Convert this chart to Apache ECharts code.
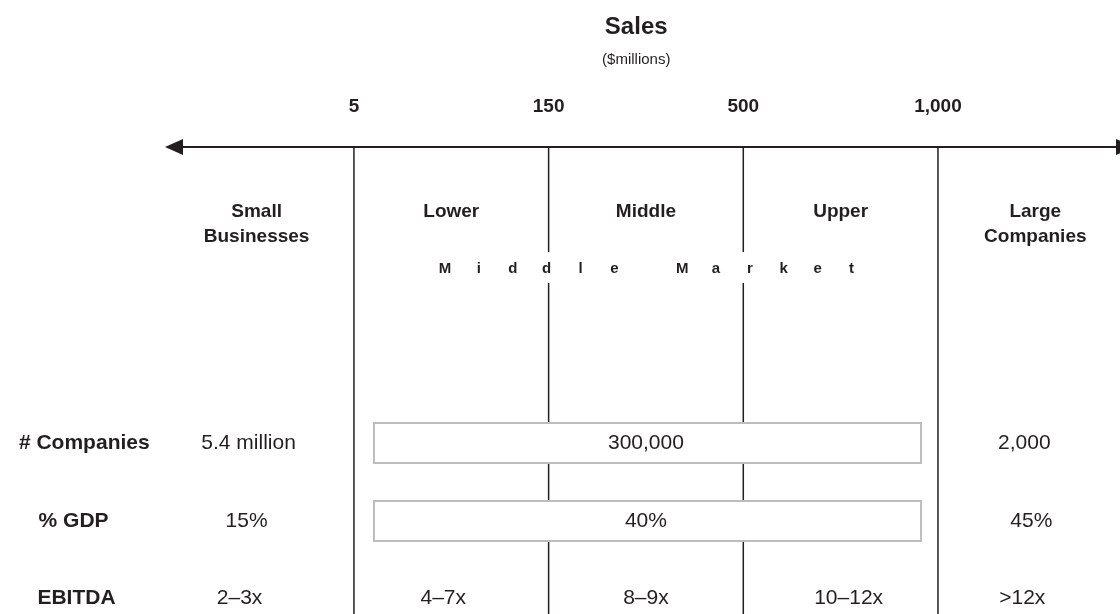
<!DOCTYPE html>
<html>
<head>
<meta charset="utf-8">
<script src="https://cdn.jsdelivr.net/npm/echarts@6/dist/echarts.min.js"></script>
<style>
html,body{margin:0;padding:0;background:#fff;}
#chart{width:1120px;height:614px;}
</style>
</head>
<body>
<div id="chart"></div>
<script>
// ---- data ----
const titleText = 'Sales';
const subtitleText = '($millions)';
const boundaryLabels = ['5', '150', '500', '1,000'];
const segmentLabels = ['Small\nBusinesses', 'Lower', 'Middle', 'Upper', 'Large\nCompanies'];
const groupLabel = 'Middle Market';
const rowLabels = ['# Companies', '% GDP', 'EBITDA'];
// [segment position, text]
const companiesValues = [[0, '5.4 million'], [2, '300,000'], [4, '2,000']];
const gdpValues = [[0, '15%'], [2, '40%'], [4, '45%']];
const ebitdaValues = [[0, '2–3x'], [1, '4–7x'], [2, '8–9x'], [3, '10–12x'], [4, '>12x']];
const spanningRows = [0, 1]; // rows whose middle-market value spans Lower..Upper

// ---- layout ----
const X_MIN = -0.818, X_MAX = 4.935;
const Y = { title: 27, sub: 60, ticks: 107, axis: 147, header: 212, group: 269, rows: [443, 521, 598], bottom: 614 };
const BOX = { x0: 1.103, x1: 3.913, h: 40 };
const ROW_LABEL_X = [-0.385, -0.44, -0.425];
const VALUE_NUDGE = [[-8, 0, -11], [-10, 0, -4], [-17, -8, 0, 8, -13]]; // px
const FONT = '"Liberation Sans", Arial, Helvetica, sans-serif';
const INK = '#231f20';
const rowValues = [companiesValues, gdpValues, ebitdaValues];

function txt(api, x, y, text, font, extra, dx) {
  const p = api.coord([x, y]);
  return {
    type: 'text',
    style: Object.assign({ text: text, x: p[0] + (dx || 0), y: p[1], align: 'center', verticalAlign: 'middle', font: font, fill: INK }, extra || {})
  };
}

const chart = echarts.init(document.getElementById('chart'), null, { renderer: 'canvas' });

const option = {
  animation: false,
  backgroundColor: '#ffffff',
  grid: { left: 0, right: 0, top: 0, bottom: 0 },
  xAxis: { type: 'value', min: X_MIN, max: X_MAX, show: false },
  yAxis: { type: 'value', min: 0, max: Y.bottom, inverse: true, show: false },
  series: [
    // axis arrow
    {
      type: 'custom', z: 1, clip: false, data: [0],
      renderItem: function (params, api) {
        const a = api.coord([X_MIN, Y.axis]);
        const b = api.coord([X_MAX, Y.axis]);
        const lx = a[0] + 165, rx = b[0] + 14;
        return {
          type: 'group', children: [
            { type: 'line', shape: { x1: lx + 10, y1: a[1], x2: rx - 10, y2: a[1] }, style: { stroke: INK, lineWidth: 2 } },
            { type: 'polygon', shape: { points: [[lx, a[1]], [lx + 18, a[1] - 8], [lx + 18, a[1] + 8]] }, style: { fill: INK } },
            { type: 'polygon', shape: { points: [[rx, b[1]], [rx - 18, b[1] - 8], [rx - 18, b[1] + 8]] }, style: { fill: INK } }
          ]
        };
      }
    },
    // boundary lines
    {
      type: 'custom', z: 1, data: boundaryLabels.map((l, i) => i + 1),
      renderItem: function (params, api) {
        const x = api.value(0);
        const p1 = api.coord([x, Y.axis]);
        const p2 = api.coord([x, Y.bottom]);
        return { type: 'line', shape: { x1: p1[0], y1: p1[1], x2: p2[0], y2: p2[1] }, style: { stroke: INK, lineWidth: 1.5 } };
      }
    },
    // white band behind Middle Market + boxes
    {
      type: 'custom', z: 2, data: [0],
      renderItem: function (params, api) {
        const children = [];
        const g0 = api.coord([1.45, Y.group - 17]);
        const g1 = api.coord([3.55, Y.group + 14]);
        children.push({ type: 'rect', shape: { x: g0[0], y: g0[1], width: g1[0] - g0[0], height: g1[1] - g0[1] }, style: { fill: '#fff' } });
        spanningRows.forEach(function (r) {
          const c0 = api.coord([BOX.x0, Y.rows[r] - BOX.h / 2]);
          const c1 = api.coord([BOX.x1, Y.rows[r] + BOX.h / 2]);
          children.push({ type: 'rect', shape: { x: c0[0], y: c0[1], width: c1[0] - c0[0], height: c1[1] - c0[1] }, style: { fill: '#fff', stroke: '#bdbdbd', lineWidth: 2 } });
        });
        return { type: 'group', children: children };
      }
    },
    // texts
    {
      type: 'custom', z: 3, data: [0],
      renderItem: function (params, api) {
        const children = [];
        children.push(txt(api, 2.45, Y.title, titleText, 'bold 24px ' + FONT));
        children.push(txt(api, 2.45, Y.sub, subtitleText, '15px ' + FONT));
        boundaryLabels.forEach(function (l, i) {
          children.push(txt(api, i + 1, Y.ticks, l, 'bold 19px ' + FONT));
        });
        segmentLabels.forEach(function (l, i) {
          const two = l.indexOf('\n') >= 0;
          children.push(txt(api, i + 0.5, two ? Y.header + 12.5 : Y.header, l, 'bold 19px ' + FONT, { lineHeight: 25 }));
        });
        const letters = groupLabel.split('');
        const step = 0.174;
        const start = 2.512 - step * (letters.length - 1) / 2;
        letters.forEach(function (ch, i) {
          if (ch !== ' ') children.push(txt(api, start + i * step, Y.group, ch, 'bold 15px ' + FONT));
        });
        rowLabels.forEach(function (l, r) {
          children.push(txt(api, ROW_LABEL_X[r], Y.rows[r], l, 'bold 21px ' + FONT));
          rowValues[r].forEach(function (v, k) {
            children.push(txt(api, v[0] + 0.5, Y.rows[r], v[1], '21px ' + FONT, null, VALUE_NUDGE[r][k]));
          });
        });
        return { type: 'group', children: children };
      }
    }
  ]
};
chart.setOption(option);
</script>
</body>
</html>
